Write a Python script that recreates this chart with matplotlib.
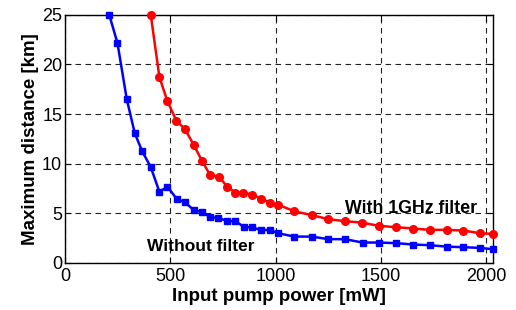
import matplotlib
matplotlib.use('Agg')
import matplotlib.pyplot as plt

plt.rcParams['font.family'] = ['Liberation Sans', 'DejaVu Sans']

# pump power [mW]
power_nofilter = [210, 249, 293, 331, 366, 407, 448, 486, 531, 569, 610, 648, 689, 727,
                  771, 809, 851, 889, 928, 971, 1009, 1088, 1171, 1250, 1329, 1412,
                  1491, 1570, 1653, 1731, 1811, 1890, 1969, 2030]
dist_nofilter = [25.0, 22.15, 16.5, 13.07, 11.26, 9.65, 7.16, 7.69, 6.42, 6.12, 5.34, 5.14,
                 4.61, 4.54, 4.2, 4.2, 3.6, 3.6, 3.3, 3.33, 3.0, 2.65, 2.65, 2.39, 2.39,
                 2.05, 2.05, 1.99, 1.85, 1.78, 1.64, 1.58, 1.51, 1.38]

power_filter = [407, 448, 486, 528, 569, 610, 651, 689, 731, 769, 809, 847, 886, 930, 971,
                1009, 1088, 1171, 1250, 1329, 1408, 1491, 1570, 1653, 1731, 1811, 1890,
                1969, 2030]
dist_filter = [25.0, 18.72, 16.3, 14.35, 13.48, 11.93, 10.25, 8.84, 8.7, 7.69, 7.09, 7.09,
               6.89, 6.48, 6.08, 5.88, 5.21, 4.81, 4.41, 4.2, 4.06, 3.73, 3.6, 3.46, 3.33,
               3.33, 3.26, 2.99, 2.92]

fig = plt.figure(figsize=(5.16, 3.10), dpi=100)
ax = fig.add_axes([0.126, 0.152, 0.829, 0.800])

ax.plot(power_nofilter, dist_nofilter, color='#0000ff', lw=1.8, marker='s', ms=5,
        clip_on=False, zorder=3)
ax.plot(power_filter, dist_filter, color='#ff0000', lw=1.8, marker='o', ms=5.5,
        clip_on=False, zorder=3)

ax.set_xlim(0, 2030)
ax.set_ylim(0, 25)
ax.set_xticks([0, 500, 1000, 1500, 2000])
ax.set_yticks([0, 5, 10, 15, 20, 25])
ax.tick_params(direction='in', labelsize=13, length=4, width=0.8,
               top=True, right=True)
ax.tick_params(axis='x', pad=4)
ax.tick_params(axis='y', pad=2)
ax.grid(True, color='#222222', linestyle=(0, (5, 4)), linewidth=0.8)
for s in ax.spines.values():
    s.set_linewidth(1.0)

ax.set_xlabel('Input pump power [mW]', fontsize=13.5, fontweight='bold', labelpad=2)
ax.set_ylabel('Maximum distance [km]', fontsize=13.5, fontweight='bold', labelpad=2)

ax.text(1640, 5.44, 'With 1GHz filter', fontsize=12.8, fontweight='bold',
        ha='center', va='center')
ax.text(642, 1.64, 'Without filter', fontsize=12.5, fontweight='bold',
        ha='center', va='center')

fig.savefig('out.png', dpi=100)
